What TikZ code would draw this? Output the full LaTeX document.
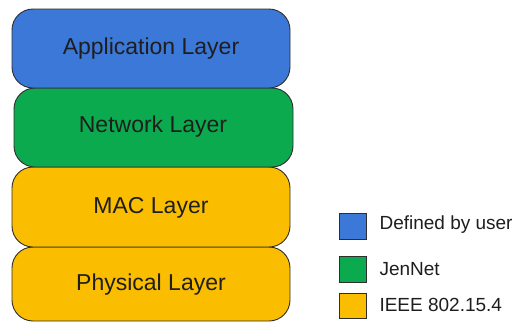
\documentclass[tikz,border=0pt]{standalone}
\usepackage{fontspec}
\setmainfont{Liberation Sans}
\definecolor{ublue}{HTML}{3C78D8}
\definecolor{ugreen}{HTML}{0BAA4F}
\definecolor{uyellow}{HTML}{FABD00}
\definecolor{utext}{HTML}{1E1E1E}
\definecolor{uedge}{HTML}{2E2E2E}
\begin{document}
\begin{tikzpicture}[x=1pt,y=-1pt,
  layer/.style={draw=uedge, line width=0.9pt, rounded corners=21pt},
  ltext/.style={font=\fontsize{23}{25}\selectfont, text=utext},
  leg/.style={draw=uedge, line width=0.8pt},
  legtext/.style={font=\fontsize{19}{21}\selectfont, text=utext, anchor=west}]
\useasboundingbox (0,0) rectangle (520,322);
\clip (0,0) rectangle (520,322);
\draw[layer, fill=uyellow] (12,247) rectangle (290,321);
\draw[layer, fill=uyellow] (12,167) rectangle (290,247);
\draw[layer, fill=ugreen] (14,88) rectangle (293,167);
\draw[layer, fill=ublue] (12,9) rectangle (290,88);
\node[ltext] (app) at (151,49) {Application Layer};
\node[ltext] (net) at (153,127) {Network Layer};
\node[ltext] (mac) at (151,208) {MAC Layer};
\node[ltext] (phy) at (151,285) {Physical Layer};
\draw[leg, fill=ublue] (339,213) rectangle (366,239);
\draw[leg, fill=ugreen] (339,256) rectangle (366,282);
\draw[leg, fill=uyellow] (339,293) rectangle (366,318);
\node[legtext] (l1) at (376,225) {Defined by user};
\node[legtext] (l2) at (376,269) {JenNet};
\node[legtext] (l3) at (376,305) {IEEE 802.15.4};
\end{tikzpicture}
\end{document}
